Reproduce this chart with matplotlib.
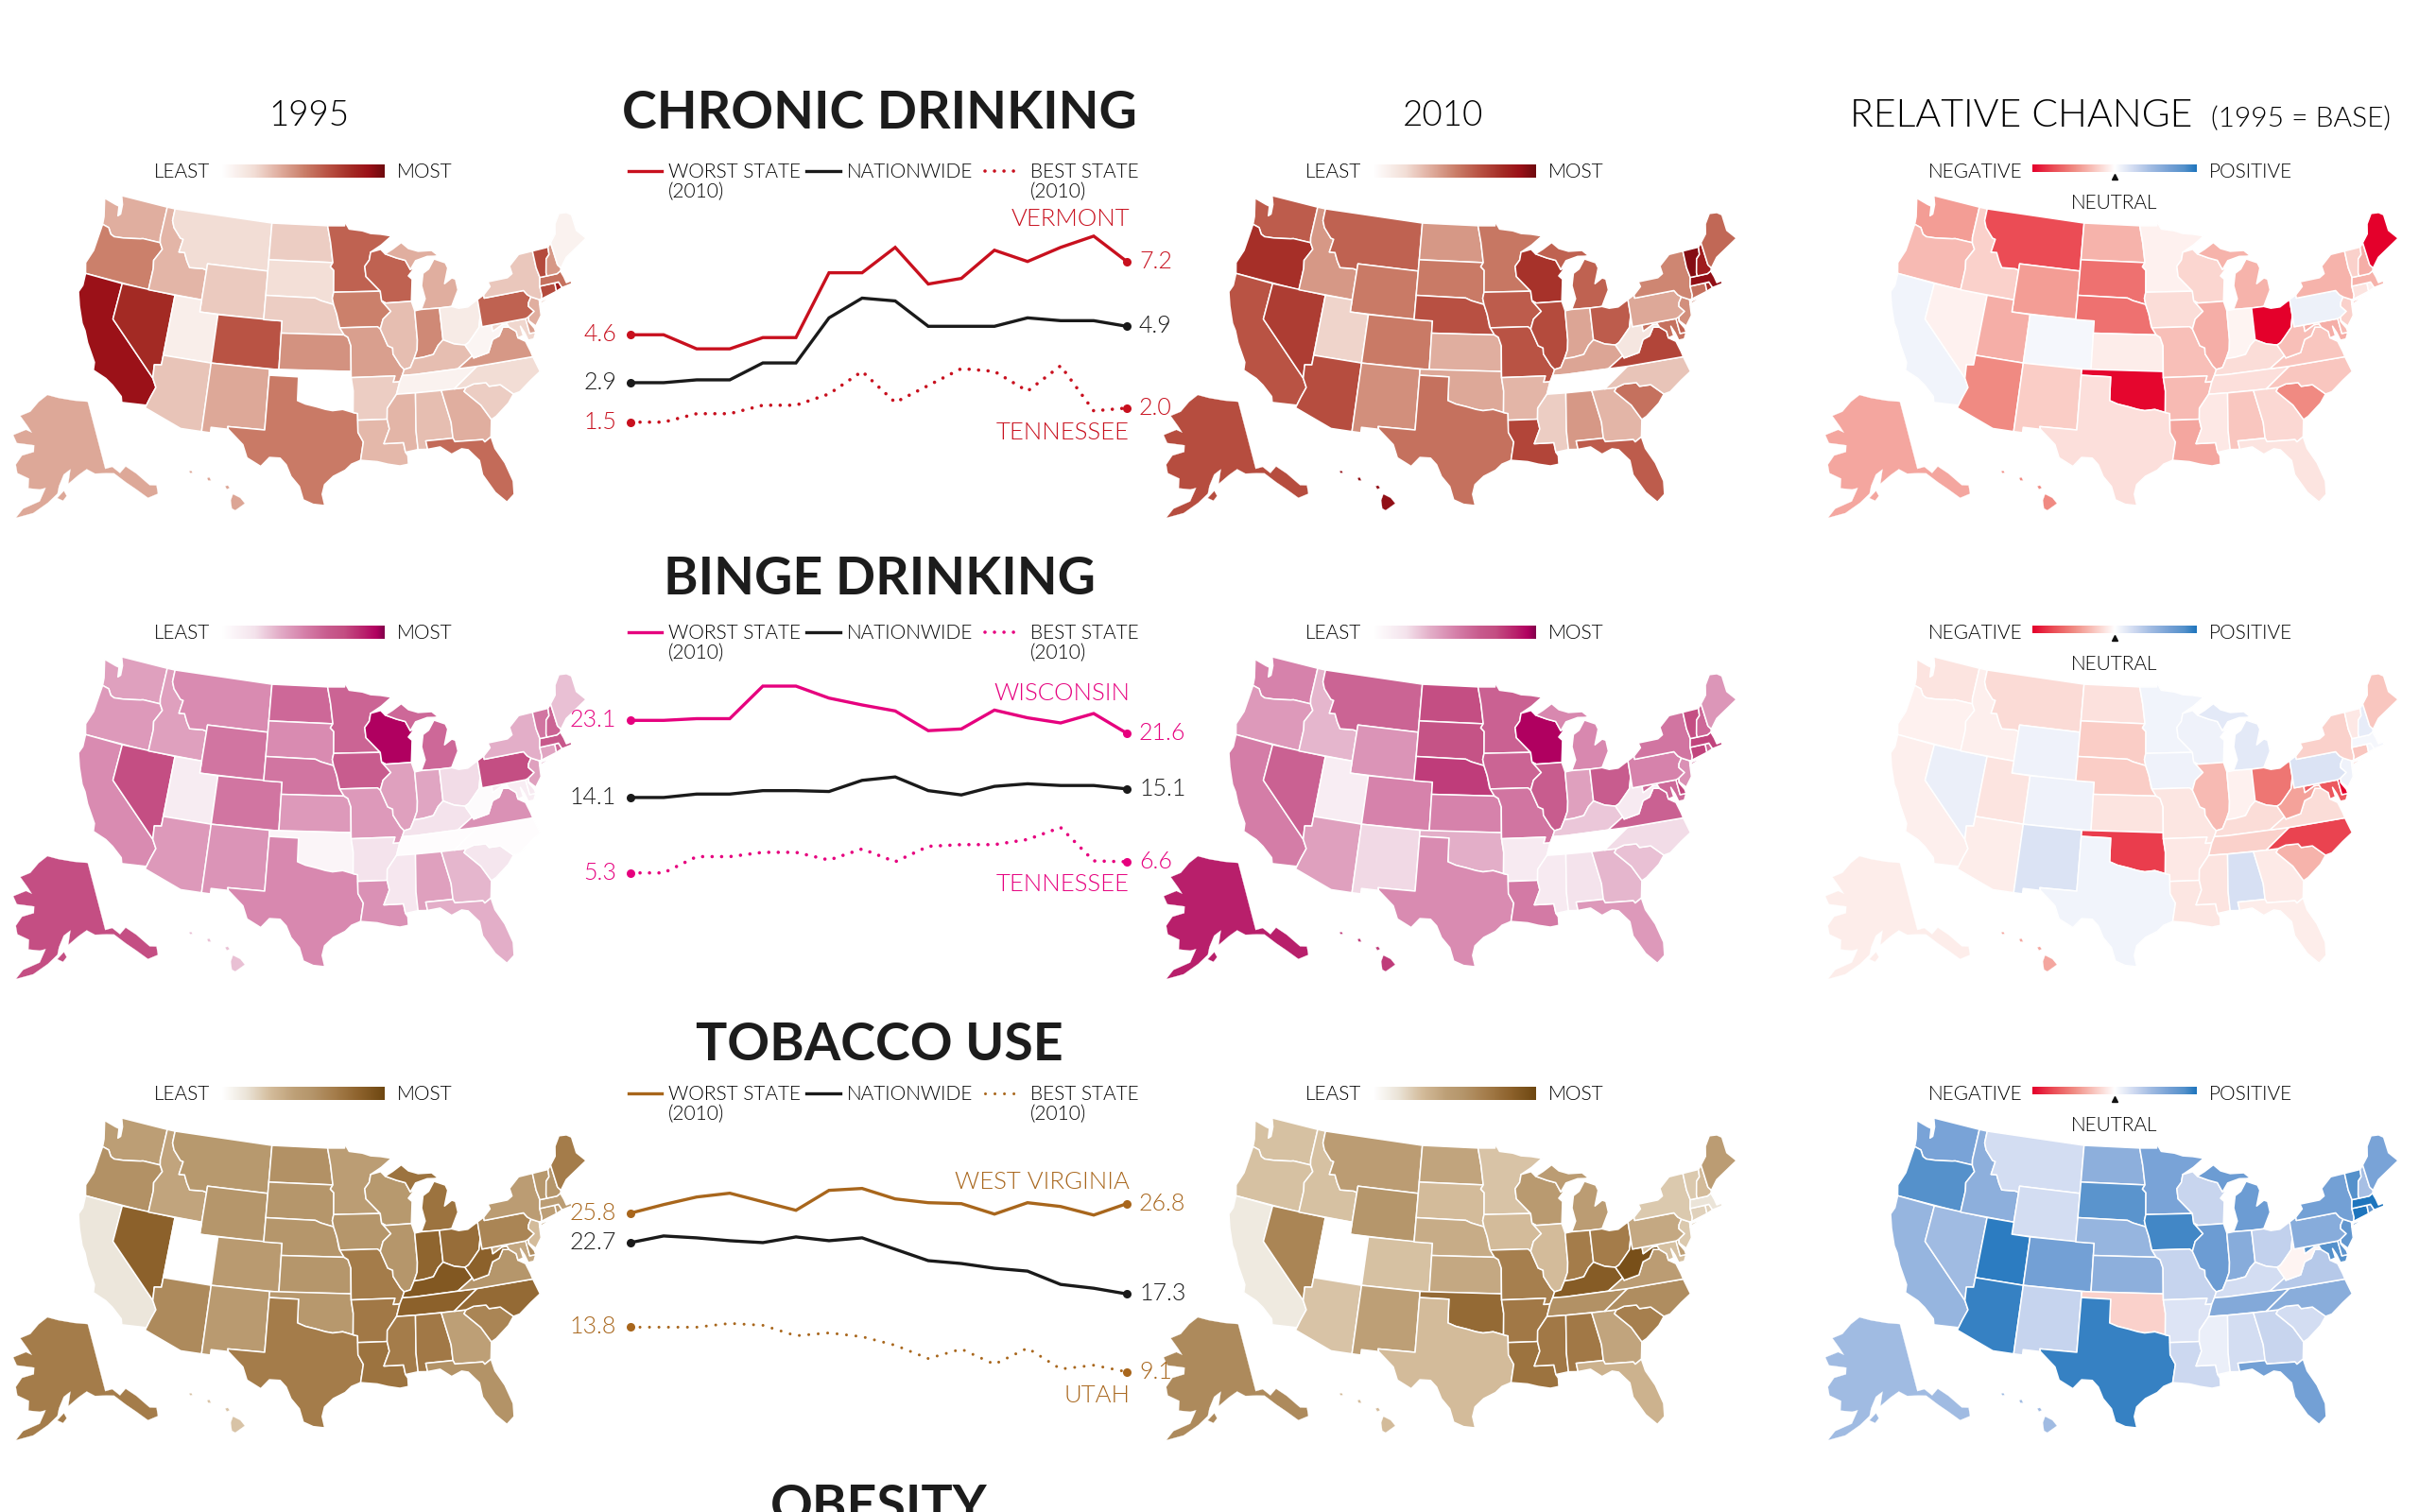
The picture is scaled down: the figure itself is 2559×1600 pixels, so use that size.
import numpy as np
import matplotlib
matplotlib.use('Agg')
import matplotlib.pyplot as plt
from matplotlib import font_manager as fm
from matplotlib.colors import LinearSegmentedColormap
from matplotlib.lines import Line2D

W, H = 2559, 1600
plt.rcParams['font.family'] = ['Lato', 'DejaVu Sans']

# the thin labels want Lato Light, weight='light' lands on Hairline here
light_path = [f.fname for f in fm.fontManager.ttflist if f.fname.endswith('Lato-Light.ttf')]
bold_path = [f.fname for f in fm.fontManager.ttflist if f.fname.endswith('Lato-Bold.ttf')]

def light_font(size):
    if light_path:
        return fm.FontProperties(fname=light_path[0], size=size)
    return fm.FontProperties(family='Lato', weight='normal', size=size)

def bold_font(size):
    if bold_path:
        return fm.FontProperties(fname=bold_path[0], size=size)
    return fm.FontProperties(family='Lato', weight='bold', size=size)

################### *** chart values *** ##################################################

years = list(range(1995, 2011))

chronic_worst = [4.6,4.6,4.1,4.1,4.5,4.5,6.8,6.8,7.7,6.4,6.6,7.6,7.2,7.7,8.1,7.2]
chronic_nation = [2.9,2.9,3.0,3.0,3.6,3.6,5.2,5.9,5.8,4.9,4.9,4.9,5.2,5.1,5.1,4.9]
chronic_best = [1.5,1.5,1.8,1.8,2.1,2.1,2.5,3.3,2.2,2.8,3.4,3.3,2.6,3.5,1.9,2.0]

binge_worst = [23.1,23.1,23.3,23.3,27.1,27.1,25.7,24.9,24.2,21.9,22.1,24.3,23.4,22.8,23.9,21.6]
binge_nation = [14.1,14.1,14.5,14.5,14.9,14.9,14.8,16.1,16.5,14.9,14.4,15.4,15.7,15.5,15.5,15.1]
binge_best = [5.3,5.3,7.2,7.2,7.7,7.7,6.8,8.1,6.6,8.4,8.6,8.6,9.2,10.6,6.7,6.6]

tobacco_worst = [25.8,26.7,27.5,27.9,27.0,26.1,28.2,28.4,27.3,26.9,26.8,25.7,26.9,26.5,25.6,26.8]
tobacco_nation = [22.7,23.4,23.2,22.9,22.7,23.3,22.9,23.2,22.0,20.8,20.5,20.0,19.7,18.3,17.9,17.3]
tobacco_best = [13.8,13.8,13.8,14.2,14.0,12.9,13.2,12.8,11.9,10.5,11.5,9.9,11.6,9.4,9.8,9.1]

states = ['AK','AL','AR','AZ','CA','CO','CT','DE','FL','GA',
          'HI','IA','ID','IL','IN','KS','KY','LA','MA','MD',
          'ME','MI','MN','MO','MS','MT','NC','ND','NE','NH',
          'NJ','NM','NV','NY','OH','OK','OR','PA','RI','SC',
          'SD','TN','TX','UT','VA','VT','WA','WI','WV','WY']

chronic_1995 = [37,30,25,28,90,65,68,40,57,35,
                38,50,33,30,47,44,30,32,55,22,
                8,35,60,40,33,20,20,25,25,42,
                35,37,80,27,12,0,50,60,85,25,
                19,8,52,10,42,68,35,60,6,26]
chronic_2010 = [67,42,33,67,65,52,55,60,62,33,
                92,62,42,68,38,35,38,70,92,55,
                58,60,53,65,25,60,28,42,66,85,
                45,45,73,48,62,37,78,37,80,55,
                52,0,55,23,70,95,62,77,15,52]
chronic_change = [-38,-25,-30,-50,7,5,-12,-30,-12,-17,
                  -50,-15,-20,-35,-5,-8,-15,-38,-33,-35,
                  -100,-33,-6,-28,-10,-75,-25,-33,-60,-35,
                  -20,-22,-6,-33,-100,-98,-30,9,-6,-50,
                  -60,-14,-14,-35,-25,-20,-42,-18,-28,-42]

binge_1995 = [75,40,20,42,47,55,38,15,35,33,
              30,65,40,40,38,42,20,45,68,13,
              30,60,62,42,17,47,2,60,55,62,
              40,44,75,35,22,7,42,75,60,18,
              47,2,48,14,45,55,40,95,3,55]
binge_2010 = [88,20,15,40,52,50,78,78,42,33,
              80,62,33,65,40,50,28,53,78,60,
              43,48,63,55,15,62,22,75,80,60,
              45,23,63,55,65,35,42,50,60,30,
              72,0,47,13,63,75,50,95,15,44]
binge_change = [-8,20,-10,-8,-7,8,-25,-100,-8,-9,
                -38,8,-7,-30,-6,-12,-15,-11,5,-70,
                -25,14,7,-11,-12,-16,-78,-13,-22,12,
                8,18,10,-20,-58,-80,-6,18,5,-33,
                -22,-20,7,-12,-15,-10,-12,8,-40,8]

tobacco_1995 = [70,72,72,62,14,50,45,60,57,45,
                27,55,42,55,83,55,90,75,47,40,
                70,75,47,70,70,52,80,58,55,55,
                30,50,85,48,78,53,58,65,48,65,
                55,85,70,0,55,53,46,52,85,55]
tobacco_2010 = [62,72,72,27,12,28,22,45,35,42,
                30,30,28,30,70,40,88,75,15,28,
                48,48,27,68,72,48,60,42,38,30,
                25,45,65,25,70,80,28,40,22,68,
                30,58,30,0,48,25,28,50,95,55]
tobacco_change = [45,22,17,93,50,68,100,80,68,27,
                  45,90,55,72,58,55,22,25,100,85,
                  65,72,65,28,10,22,57,55,50,42,
                  78,28,45,68,30,-20,85,58,80,22,
                  82,60,93,96,35,85,65,27,-5,22]

################### *** state outlines, lon/lat *** #######################################

outlines = {
 'WA': [[(-124.7,48.4),(-123.2,48.15),(-122.75,48.1),(-122.55,47.3),(-122.3,47.5),(-122.4,48.3),(-122.8,49.0),(-117.03,49.0),(-117.04,46.42),(-116.92,45.99),(-118.98,46.0),(-119.3,45.93),(-121.2,45.65),(-122.3,45.55),(-122.75,45.68),(-123.2,46.15),(-124.0,46.27),(-124.1,46.9)]],
 'OR': [[(-124.0,46.27),(-123.2,46.15),(-122.75,45.68),(-122.3,45.55),(-121.2,45.65),(-119.3,45.93),(-118.98,46.0),(-116.92,45.99),(-116.5,45.5),(-117.2,44.45),(-117.03,43.8),(-117.03,42.0),(-124.2,42.0),(-124.55,42.85),(-124.1,44.0)]],
 'CA': [[(-124.2,42.0),(-120.0,42.0),(-120.0,39.0),(-114.63,35.0),(-114.15,34.3),(-114.5,33.4),(-114.72,32.72),(-117.12,32.53),(-117.3,33.0),(-118.4,33.75),(-119.2,34.15),(-120.6,34.55),(-120.7,35.2),(-121.9,36.6),(-122.5,37.5),(-123.0,38.0),(-123.8,39.3),(-124.35,40.4),(-124.1,41.0)]],
 'NV': [[(-120,42),(-114.04,42),(-114.04,36.2),(-114.75,36.1),(-114.63,35),(-120,39)]],
 'ID': [[(-117.03,49),(-116.05,49),(-116.05,48.0),(-115.7,47.45),(-114.7,46.7),(-114.35,46.65),(-114.55,45.55),(-113.9,45.6),(-113.45,44.95),(-113.0,44.45),(-111.5,44.55),(-111.05,44.48),(-111.05,42),(-117.03,42),(-117.03,43.8),(-117.2,44.45),(-116.5,45.5),(-116.92,45.99),(-117.04,46.42)]],
 'MT': [[(-116.05,49),(-104.05,49),(-104.05,45),(-111.05,45),(-111.05,44.48),(-111.5,44.55),(-113.0,44.45),(-113.45,44.95),(-113.9,45.6),(-114.55,45.55),(-114.35,46.65),(-114.7,46.7),(-115.7,47.45),(-116.05,48.0)]],
 'WY': [[(-111.05,45),(-104.05,45),(-104.05,41),(-111.05,41)]],
 'UT': [[(-114.04,42),(-111.05,42),(-111.05,41),(-109.05,41),(-109.05,37),(-114.04,37)]],
 'CO': [[(-109.05,41),(-102.05,41),(-102.05,37),(-109.05,37)]],
 'AZ': [[(-114.04,37),(-109.05,37),(-109.05,31.33),(-111.07,31.33),(-114.8,32.5),(-114.72,32.72),(-114.5,33.4),(-114.15,34.3),(-114.63,35),(-114.75,36.1),(-114.04,36.2)]],
 'NM': [[(-109.05,37),(-103.0,37),(-103.04,32),(-106.62,32),(-106.53,31.78),(-108.2,31.78),(-108.2,31.33),(-109.05,31.33)]],
 'ND': [[(-104.05,49),(-97.23,49),(-96.85,47.6),(-96.56,45.94),(-104.05,45.94)]],
 'SD': [[(-104.05,45.94),(-96.56,45.94),(-96.85,45.6),(-96.45,45.3),(-96.45,43.5),(-96.6,43.0),(-96.45,42.49),(-97.9,42.8),(-98.5,43.0),(-104.05,43)]],
 'NE': [[(-104.05,43),(-98.5,43),(-97.9,42.8),(-96.45,42.49),(-96.1,41.7),(-95.85,40.7),(-95.31,40),(-102.05,40),(-102.05,41),(-104.05,41)]],
 'KS': [[(-102.05,40),(-95.31,40),(-94.9,39.8),(-94.6,39.1),(-94.62,37),(-102.05,37)]],
 'OK': [[(-103,37),(-94.62,37),(-94.62,36.5),(-94.43,35.4),(-94.48,33.64),(-95.5,33.9),(-96.5,33.8),(-97.2,33.9),(-98.1,34.1),(-99.2,34.3),(-100,34.56),(-100,36.5),(-103,36.5)]],
 'TX': [[(-103,36.5),(-100,36.5),(-100,34.56),(-99.2,34.3),(-98.1,34.1),(-97.2,33.9),(-96.5,33.8),(-95.5,33.9),(-94.48,33.64),(-94.04,33.55),(-94.04,32.0),(-93.55,31.2),(-93.85,29.7),(-94.7,29.4),(-95.3,28.9),(-96.4,28.4),(-97.2,27.7),(-97.4,26.9),(-97.15,25.96),(-98.2,26.05),(-99.1,26.4),(-99.5,27.5),(-100.3,28.3),(-100.8,29.25),(-101.4,29.77),(-102.4,29.77),(-103.15,28.98),(-104.5,29.6),(-105.0,30.65),(-106.53,31.78),(-106.62,32),(-103.04,32)]],
 'MN': [[(-97.23,49),(-95.15,49),(-95.15,49.38),(-94.6,48.72),(-93.0,48.55),(-92.0,48.3),(-90.8,48.2),(-89.5,48.0),(-90.8,47.3),(-92.1,46.75),(-92.3,46.1),(-92.85,45.6),(-92.75,44.75),(-91.2,43.5),(-96.45,43.5),(-96.45,45.3),(-96.85,45.6),(-96.56,45.94),(-96.85,47.6)]],
 'IA': [[(-96.45,43.5),(-91.2,43.5),(-91.1,42.7),(-90.15,41.8),(-91.05,41.2),(-91.4,40.4),(-91.7,40.6),(-95.77,40.58),(-96.1,41.7),(-96.45,42.49),(-96.6,43.0)]],
 'MO': [[(-95.77,40.58),(-91.7,40.6),(-91.4,40.4),(-90.7,39.0),(-90.2,38.8),(-90.2,38.3),(-89.5,37.3),(-89.15,36.98),(-89.4,36.5),(-89.7,36.0),(-90.37,36.0),(-90.15,36.5),(-94.62,36.5),(-94.62,37),(-94.6,39.1),(-94.9,39.8),(-95.31,40)]],
 'AR': [[(-94.62,36.5),(-90.15,36.5),(-90.37,36),(-89.7,36),(-90.1,35.0),(-91.1,33.9),(-91.17,33.0),(-94.04,33.0),(-94.04,33.55),(-94.48,33.64),(-94.43,35.4)]],
 'LA': [[(-94.04,33),(-91.17,33),(-91.0,32.2),(-91.6,31.0),(-89.73,31.0),(-89.6,30.2),(-89.4,29.9),(-89.4,29.2),(-90.2,29.1),(-91.3,29.3),(-92.3,29.55),(-93.85,29.7),(-93.55,31.2),(-94.04,32)]],
 'WI': [[(-92.1,46.75),(-90.9,46.95),(-90.4,46.55),(-89.1,46.15),(-88.1,45.9),(-87.6,45.1),(-87.0,45.3),(-87.9,44.6),(-87.5,44.3),(-87.8,42.5),(-90.65,42.5),(-91.1,42.7),(-91.2,43.5),(-92.75,44.75),(-92.85,45.6),(-92.3,46.1)]],
 'IL': [[(-90.65,42.5),(-87.8,42.5),(-87.53,41.7),(-87.53,39.3),(-87.65,38.5),(-88.05,37.8),(-88.5,37.1),(-89.15,36.98),(-89.5,37.3),(-90.2,38.3),(-90.2,38.8),(-90.7,39.0),(-91.4,40.4),(-91.05,41.2),(-90.15,41.8),(-91.1,42.7)]],
 'MI': [[(-86.8,41.76),(-84.8,41.72),(-83.45,41.72),(-83.1,42.2),(-82.5,43.0),(-82.6,43.9),(-83.0,44.05),(-83.9,43.65),(-83.3,44.9),(-83.5,45.35),(-84.75,45.78),(-85.5,45.0),(-86.2,44.7),(-86.5,43.7),(-86.25,42.6)],
        [(-90.4,46.55),(-89.1,46.15),(-88.1,45.9),(-87.6,45.1),(-86.9,45.8),(-85.5,46.05),(-84.7,46.0),(-84.2,46.0),(-84.9,46.5),(-86.5,46.55),(-87.6,46.85),(-88.4,47.4),(-89.5,46.9)]],
 'IN': [[(-87.53,41.7),(-86.8,41.76),(-84.8,41.72),(-84.82,39.1),(-85.4,38.7),(-86.0,38.0),(-87.1,37.85),(-88.05,37.8),(-87.65,38.5),(-87.53,39.3)]],
 'OH': [[(-84.8,41.72),(-83.45,41.72),(-82.7,41.5),(-81.7,41.5),(-80.52,41.98),(-80.52,40.64),(-80.85,39.7),(-81.7,39.0),(-82.2,38.6),(-82.6,38.45),(-83.7,38.65),(-84.82,39.1)]],
 'KY': [[(-89.4,36.5),(-88.05,36.5),(-83.68,36.6),(-82.0,37.5),(-82.6,38.45),(-83.7,38.65),(-84.82,39.1),(-85.4,38.7),(-86,38),(-87.1,37.85),(-88.05,37.8),(-88.5,37.1),(-89.15,36.98)]],
 'TN': [[(-90.1,35),(-88.2,35),(-84.3,35),(-81.68,36.59),(-83.68,36.6),(-88.05,36.5),(-89.4,36.5),(-89.7,36)]],
 'MS': [[(-90.1,35),(-88.2,35),(-88.45,31.9),(-88.4,30.35),(-89.6,30.2),(-89.73,31),(-91.6,31),(-91,32.2),(-91.17,33),(-91.1,33.9)]],
 'AL': [[(-88.2,35),(-85.6,35),(-85.0,32.3),(-85.0,31),(-87.6,31),(-87.5,30.3),(-88.4,30.35),(-88.45,31.9)]],
 'GA': [[(-85.6,35),(-83.1,35),(-83.35,34.7),(-81.9,33.4),(-81.1,32.1),(-81.4,30.7),(-82.05,30.36),(-82.2,30.57),(-84.86,30.7),(-85,31),(-85,32.3)]],
 'FL': [[(-87.6,31),(-85,31),(-84.86,30.7),(-82.2,30.57),(-82.05,30.36),(-81.4,30.7),(-81.2,29.7),(-80.5,28.4),(-80.03,26.8),(-80.15,25.7),(-80.9,25.15),(-81.8,26.1),(-82.7,27.7),(-82.8,28.9),(-83.7,29.9),(-84.3,30.05),(-85.3,29.7),(-86.3,30.4),(-87.5,30.3)]],
 'SC': [[(-83.35,34.7),(-83.1,35),(-82.3,35.2),(-81.05,35.15),(-80.8,34.82),(-79.67,34.8),(-78.55,33.86),(-79.2,33.2),(-80.6,32.3),(-81.1,32.1),(-81.9,33.4)]],
 'NC': [[(-84.3,35),(-83.1,35),(-82.3,35.2),(-81.05,35.15),(-80.8,34.82),(-79.67,34.8),(-78.55,33.86),(-77.9,33.95),(-76.6,34.7),(-75.5,35.25),(-75.9,36.55),(-81.68,36.59)]],
 'VA': [[(-83.68,36.6),(-81.68,36.59),(-75.9,36.55),(-76.0,37.0),(-76.3,37.9),(-77.0,38.3),(-77.05,38.85),(-77.7,39.3),(-78.35,39.4),(-78.9,38.75),(-79.65,38.55),(-80.3,37.55),(-81.9,37.3),(-82.0,37.5)]],
 'WV': [[(-82.6,38.45),(-82,37.5),(-81.9,37.3),(-80.3,37.55),(-79.65,38.55),(-78.9,38.75),(-78.35,39.4),(-77.7,39.3),(-77.85,39.6),(-78.4,39.6),(-79.48,39.2),(-79.48,39.72),(-80.52,39.72),(-80.52,40.64),(-80.85,39.7),(-81.7,39),(-82.2,38.6)]],
 'MD': [[(-79.48,39.72),(-75.79,39.72),(-75.7,38.46),(-75.05,38.45),(-75.4,37.95),(-76.0,37.95),(-76.2,38.6),(-76.5,39.2),(-76.4,38.4),(-77.0,38.3),(-77.05,38.85),(-77.7,39.3),(-77.85,39.6),(-78.4,39.6),(-79.48,39.2)]],
 'DE': [[(-75.79,39.72),(-75.45,39.8),(-75.55,39.45),(-75.1,38.8),(-75.05,38.45),(-75.7,38.46)]],
 'PA': [[(-80.52,41.98),(-79.76,42.27),(-79.76,42),(-75.35,42),(-75.05,41.6),(-74.7,41.36),(-75.1,40.95),(-75.2,40.65),(-74.72,40.15),(-75.45,39.8),(-75.79,39.72),(-80.52,39.72)]],
 'NJ': [[(-74.7,41.36),(-73.9,41.0),(-74.0,40.45),(-74.1,39.7),(-74.9,38.95),(-75.5,39.5),(-75.45,39.8),(-74.72,40.15),(-75.2,40.65),(-75.1,40.95)]],
 'NY': [[(-79.76,42),(-79.76,42.27),(-78.9,42.85),(-79.05,43.27),(-76.8,43.3),(-76.2,43.55),(-76.3,44.2),(-75.0,44.98),(-73.35,45.0),(-73.4,43.6),(-73.25,42.75),(-73.5,42.05),(-73.5,41.3),(-73.65,41.0),(-73.9,41.0),(-74.7,41.36),(-75.05,41.6),(-75.35,42)],
        [(-74.0,40.6),(-72.0,41.05),(-73.7,40.85)]],
 'CT': [[(-73.5,42.05),(-71.8,42.02),(-71.85,41.32),(-73.65,41.0),(-73.5,41.3)]],
 'RI': [[(-71.8,42.02),(-71.38,42.02),(-71.15,41.5),(-71.85,41.32)]],
 'MA': [[(-73.5,42.05),(-73.25,42.75),(-72.45,42.73),(-71.3,42.7),(-70.85,42.85),(-70.65,42.3),(-70.55,41.8),(-70.0,41.85),(-70.0,41.6),(-71.15,41.5),(-71.38,42.02),(-71.8,42.02)]],
 'VT': [[(-73.35,45),(-71.5,45.0),(-71.6,44.4),(-72.05,44.1),(-72.45,43.0),(-72.45,42.73),(-73.25,42.75),(-73.4,43.6)]],
 'NH': [[(-71.5,45),(-71.08,45.3),(-70.98,43.4),(-70.7,43.07),(-70.85,42.85),(-71.3,42.7),(-72.45,42.73),(-72.45,43.0),(-72.05,44.1),(-71.6,44.4)]],
 'ME': [[(-71.08,45.3),(-70.3,45.9),(-70.0,46.7),(-69.2,47.45),(-68.3,47.35),(-67.8,47.05),(-67.8,45.7),(-67.0,44.85),(-68.5,44.3),(-69.8,43.8),(-70.7,43.07),(-70.98,43.4)]],
}

alaska = [
 [(-141,69.65),(-141,60.3),(-139,60.3),(-137.5,59.2),(-135.5,59.8),(-133.5,58.4),(-131.5,56.3),(-130,55.9),(-130.5,54.8),(-133,54.8),(-135,56.5),(-136.8,57.8),(-139,59.4),(-141,59.7),(-144,60.0),(-146,60.8),(-148.5,60.2),(-151.5,59.2),(-150.5,61.1),(-152.5,60.5),(-154,59.0),(-154.5,58.0),(-157,56.8),(-160.5,55.4),(-164.5,54.6),(-163,55.9),(-159,57.0),(-157.5,58.8),(-159,58.6),(-162,58.7),(-162,60.0),(-165.3,60.6),(-166,61.7),(-164.5,63.0),(-161,63.6),(-161,64.5),(-166.5,64.6),(-168,65.6),(-164,66.5),(-162,66.2),(-163.5,67.0),(-166.5,68.3),(-163,69.0),(-160,70.4),(-156.5,71.35),(-152,70.85),(-146,70.2)],
 [(-154.6,57.4),(-153.2,57.0),(-152.2,57.6),(-152.8,58.3)],
]

hawaii = [
 [(-156.05,19.75),(-155.85,20.25),(-155.2,19.95),(-154.8,19.5),(-155.65,18.95),(-155.95,19.1)],
 [(-156.55,20.9),(-156.3,20.95),(-156.15,20.75),(-156.4,20.65)],
 [(-158.15,21.55),(-157.95,21.62),(-157.8,21.35),(-158.05,21.35)],
 [(-159.75,22.1),(-159.55,22.15),(-159.45,21.98),(-159.65,21.95)],
]

################### *** helpers *** #######################################################

def albers(lon, lat, lon0=-96.0, phi0=37.5, p1=29.5, p2=45.5):
    lon, lat = np.radians(lon), np.radians(lat)
    lon0, phi0, p1, p2 = np.radians([lon0, phi0, p1, p2])
    n = (np.sin(p1) + np.sin(p2)) / 2
    c = np.cos(p1)**2 + 2*n*np.sin(p1)
    rho = np.sqrt(c - 2*n*np.sin(lat)) / n
    rho0 = np.sqrt(c - 2*n*np.sin(phi0)) / n
    th = n * (lon - lon0)
    return rho*np.sin(th), rho0 - rho*np.cos(th)

fig = plt.figure(figsize=(W/100, H/100), dpi=100, facecolor='white')

def px_axes(x0, y0, x1, y1):
    ax = fig.add_axes([x0/W, 1 - y1/H, (x1-x0)/W, (y1-y0)/H])
    ax.set_axis_off()
    ax.patch.set_alpha(0)
    return ax

def label(x, y, s, size=15, color='#000000', ha='left', va='center', font=None):
    fig.text(x/W, 1 - y/H, s, fontproperties=font or light_font(size), color=color, ha=ha, va=va)

def cmap_from(nodes, lo, hi):
    return LinearSegmentedColormap.from_list('m', [((v-lo)/(hi-lo), c) for v, c in nodes], N=512)

def draw_polys(ax, polys, color, proj, lw=1.1):
    for poly in polys:
        lon, lat = np.array(poly).T
        xy = proj(lon, lat)
        ax.fill(xy[0], xy[1], facecolor=color, edgecolor='white', linewidth=lw, joinstyle='round')

def extent(polys, proj):
    pts = np.array([p for poly in polys for p in poly]).T
    x, y = proj(pts[0], pts[1])
    return x.min(), x.max(), y.min(), y.max()

lonlat = lambda lon, lat: (lon, lat)
ak_proj = lambda lon, lat: albers(lon, lat, lon0=-158, phi0=60, p1=55, p2=65)
conus_ext = extent([p for v in outlines.values() for p in v], albers)
ak_ext = extent(alaska, ak_proj)
hi_ext = extent(hawaii, lonlat)

def draw_map(dx, dy, shades, cmap, lo, hi):
    colors = dict(zip(states, cmap((np.array(shades, float) - lo) / (hi - lo))))

    ax = px_axes(83+dx, 207+dy, 620+dx, 535+dy)
    for st, polys in outlines.items():
        draw_polys(ax, polys, colors[st], albers)
    ax.set_xlim(conus_ext[0], conus_ext[1])
    ax.set_ylim(conus_ext[2], conus_ext[3])

    ax = px_axes(14+dx, 418+dy, 167+dx, 548+dy)
    draw_polys(ax, alaska, colors['AK'], ak_proj, lw=0.2)
    ax.set_xlim(ak_ext[0], ak_ext[1])
    ax.set_ylim(ak_ext[2], ak_ext[3])

    ax = px_axes(200+dx, 498+dy, 259+dx, 540+dy)
    draw_polys(ax, hawaii, colors['HI'], lonlat, lw=0.2)
    ax.set_xlim(hi_ext[0], hi_ext[1])
    ax.set_ylim(hi_ext[2], hi_ext[3])

def draw_bar(x0, x1, y0, y1, cmap, lo, hi):
    ax = px_axes(x0, y0, x1, y1)
    grad = np.linspace(lo, hi, 256).reshape(1, -1)
    ax.imshow(grad, cmap=cmap, vmin=lo, vmax=hi, aspect='auto', extent=[lo, hi, 0, 1])
    return ax

def draw_scale(dx, dy, cmap):
    label(163+dx, 182+dy, 'LEAST')
    label(420+dx, 182+dy, 'MOST')
    draw_bar(235+dx, 407+dx, 174+dy, 188+dy, cmap, 0, 100)

def draw_change_scale(dy, cmap):
    label(2040, 182+dy, 'NEGATIVE')
    label(2337, 182+dy, 'POSITIVE')
    label(2237, 215+dy, 'NEUTRAL', ha='center')
    ax = draw_bar(2150, 2324, 174+dy, 188+dy, cmap, -100, 100)
    ax.plot([0], [-0.64], marker='^', ms=4.5, color='#111111', clip_on=False)

def fig_line(x0, x1, y, **kw):
    fig.add_artist(Line2D([x0/W, x1/W], [1-y/H, 1-y/H], transform=fig.transFigure, **kw))

def dotted(lw):
    return dict(lw=lw, ls=(0, (0.01, 7.2/lw)), dash_capstyle='round')

def draw_lines(dy, color, box, ylim, worst, nation, best, lefts, rights, names, name_y, dots_lw):
    # legend
    y = 181 + dy
    fig_line(665, 700, y, color=color, lw=2.4)
    label(707, y+1, 'WORST STATE')
    label(707, y+22, '(2010)')
    fig_line(853, 889, y, color='#1a1a1a', lw=2.4)
    label(896, y+1, 'NATIONWIDE')
    fig_line(1042, 1082, y, color=color, **dotted(dots_lw))
    label(1090, y+1, 'BEST STATE')
    label(1090, y+22, '(2010)')

    ax = px_axes(667, box[0], 1192, box[1])
    ax.set_xlim(years[0], years[-1])
    ax.set_ylim(ylim)
    for vals, c, style in [(worst, color, dict(lw=2.4)),
                           (nation, '#1a1a1a', dict(lw=2.4)),
                           (best, color, dotted(dots_lw))]:
        ax.plot(years, vals, color=c, clip_on=False, solid_joinstyle='miter', **style)
        ax.plot([years[0], years[-1]], [vals[0], vals[-1]], 'o', color=c, ms=6.5, mew=0, clip_on=False)

    for vals, c, lt, rt in zip((worst, nation, best), (color, '#1a1a1a', color), lefts, rights):
        ax.annotate(lt, (years[0], vals[0]), xytext=(-15, 0), textcoords='offset pixels', ha='right',
                    va='center', fontproperties=light_font(18), color=c, annotation_clip=False)
        ax.annotate(rt, (years[-1], vals[-1]), xytext=(13, 0), textcoords='offset pixels', ha='left',
                    va='center', fontproperties=light_font(18), color=c, annotation_clip=False)

    label(1195, name_y[0], names[0], size=18.5, color=color, ha='right')
    label(1195, name_y[1], names[1], size=18.5, color=color, ha='right')

################### *** plot data *** #####################################################

red_cm = cmap_from([(0,'#ffffff'),(20,'#f2ddd5'),(35,'#e0ae9f'),(50,'#cb806b'),(65,'#b95344'),
                    (80,'#a32a24'),(90,'#9b1118'),(100,'#6e0a0e')], 0, 100)
pink_cm = cmap_from([(0,'#ffffff'),(20,'#f4e3ec'),(35,'#e3aec8'),(50,'#d682ab'),(65,'#c85c8e'),
                     (75,'#c44f83'),(88,'#b81f6b'),(95,'#b10060'),(100,'#82004b')], 0, 100)
brown_cm = cmap_from([(0,'#ffffff'),(15,'#ebe4d8'),(30,'#d3bb9a'),(45,'#bd9f76'),(55,'#b5966b'),
                      (70,'#a47c4a'),(85,'#8c612b'),(100,'#6e4711')], 0, 100)
change_cm = cmap_from([(-100,'#e4002b'),(-75,'#eb4c55'),(-50,'#f08a82'),(-25,'#f9c6bf'),(0,'#ffffff'),
                       (25,'#cdd8f0'),(45,'#a0bbe2'),(68,'#74a0d5'),(85,'#5591cb'),(100,'#1e75bd')], -100, 100)

ROW = 488
DX2, DX3 = 1217, 1917

# column heads
label(327, 123, '1995', size=26.5, ha='center')
label(1527, 123, '2010', size=26.5, ha='center')
label(1957, 123, 'RELATIVE CHANGE', size=29.5)
label(2339, 126, '(1995 = BASE)', size=21.5)

# row titles
for ty, name in [(120, 'CHRONIC DRINKING'), (613, 'BINGE DRINKING'), (1106, 'TOBACCO USE'), (1595, 'OBESITY')]:
    label(930, ty, name, color='#1c1c1c', ha='center', font=bold_font(40))

rows = [(red_cm, chronic_1995, chronic_2010, chronic_change),
        (pink_cm, binge_1995, binge_2010, binge_change),
        (brown_cm, tobacco_1995, tobacco_2010, tobacco_change)]

for i, (cm, first, last, change) in enumerate(rows):
    dy = i * ROW
    draw_map(0, dy, first, cm, 0, 100)
    draw_map(DX2, dy, last, cm, 0, 100)
    draw_map(DX3, dy, change, change_cm, -100, 100)
    draw_scale(0, dy, cm)
    draw_scale(DX2+1, dy, cm)
    draw_change_scale(dy, change_cm)

draw_lines(0, '#c8101e', (276.7, 446.7), (1.5, 7.2), chronic_worst, chronic_nation, chronic_best,
           ('4.6', '2.9', '1.5'), ('7.2', '4.9', '2.0'), ('VERMONT', 'TENNESSEE'), (232, 458), 2.6)
draw_lines(ROW, '#e6007e', (762.3, 923.7), (5.3, 23.1), binge_worst, binge_nation, binge_best,
           ('23.1', '14.1', '5.3'), ('21.6', '15.1', '6.6'), ('WISCONSIN', 'TENNESSEE'), (734, 936), 2.6)
draw_lines(2*ROW, '#a8661c', (1273.7, 1451.7), (9.1, 26.8), tobacco_worst, tobacco_nation, tobacco_best,
           ('25.8', '22.7', '13.8'), ('26.8', '17.3', '9.1'), ('WEST VIRGINIA', 'UTAH'), (1251, 1477), 2.2)

plt.savefig('out.png', dpi=100, facecolor='white')
plt.close()
